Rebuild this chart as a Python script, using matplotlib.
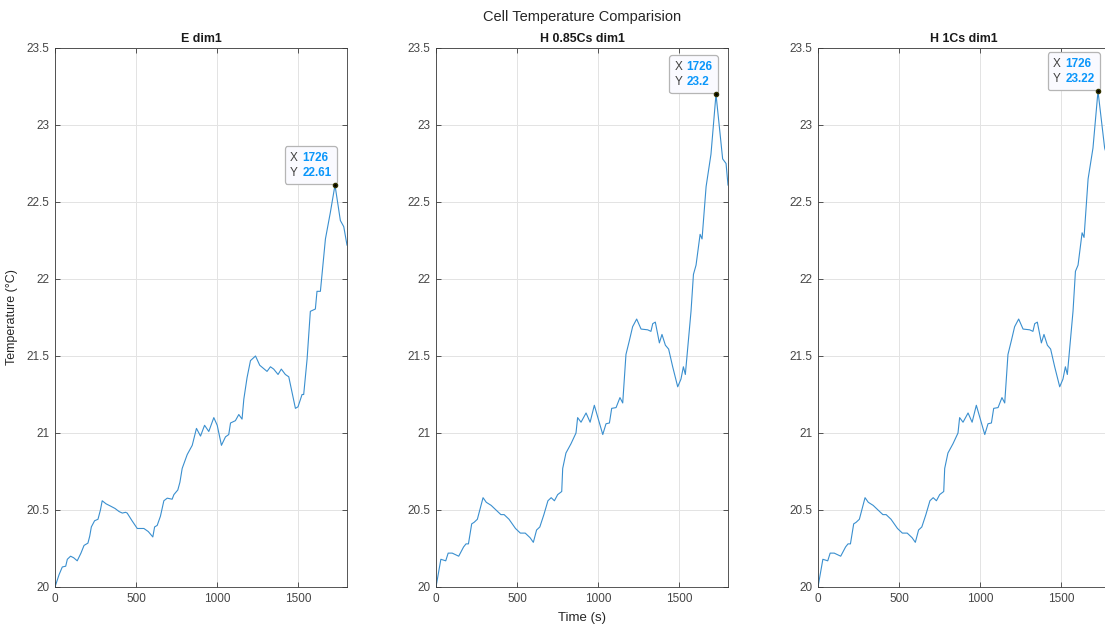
import matplotlib
matplotlib.use("Agg")
import matplotlib.pyplot as plt
from matplotlib.ticker import FuncFormatter, FixedLocator
from matplotlib.offsetbox import TextArea, HPacker, VPacker, AnnotationBbox

plt.rcParams['font.family'] = ['Liberation Sans', 'DejaVu Sans']

# E dim1
t_e = [0, 25, 45, 66, 76, 96, 115, 137, 160, 179, 203, 214, 224, 244, 265, 280, 291, 315, 343, 370,
       395, 415, 435, 445, 475, 507, 530, 548, 575, 603, 614, 630, 650, 671, 692, 722, 733, 757, 770, 784,
       815, 846, 872, 897, 922, 948, 979, 1000, 1026, 1051, 1071, 1082, 1112, 1133, 1153, 1164, 1184, 1205, 1236, 1262,
       1307, 1328, 1348, 1375, 1395, 1420, 1441, 1482, 1498, 1523, 1533, 1554, 1574, 1605, 1615, 1636, 1667, 1697, 1726, 1759,
       1780, 1800]
temp_e = [20.0, 20.08, 20.13, 20.135, 20.18, 20.20, 20.19, 20.17, 20.22, 20.27, 20.285, 20.33, 20.39, 20.43, 20.44, 20.50, 20.56, 20.54, 20.525, 20.51,
          20.49, 20.48, 20.485, 20.48, 20.43, 20.38, 20.38, 20.38, 20.36, 20.325, 20.39, 20.40, 20.46, 20.56, 20.577, 20.57, 20.6, 20.63, 20.68, 20.77,
          20.86, 20.92, 21.03, 20.98, 21.05, 21.01, 21.10, 21.05, 20.92, 20.975, 20.99, 21.065, 21.08, 21.12, 21.09, 21.22, 21.36, 21.47, 21.50, 21.44,
          21.40, 21.43, 21.415, 21.38, 21.415, 21.38, 21.365, 21.16, 21.17, 21.25, 21.25, 21.48, 21.79, 21.805, 21.92, 21.92, 22.26, 22.43, 22.61, 22.38,
          22.34, 22.22]

# H 0.85Cs dim1
t_h085 = [0, 30, 60, 75, 100, 140, 170, 185, 200, 220, 235, 255, 270, 290, 310, 340, 380, 400, 420, 450,
          490, 520, 550, 580, 600, 620, 640, 665, 690, 710, 730, 750, 775, 781, 801, 832, 863, 873, 894, 925,
          950, 976, 1028, 1048, 1069, 1083, 1110, 1134, 1151, 1171, 1192, 1212, 1237, 1264, 1305, 1325, 1336, 1352, 1377, 1393,
          1414, 1434, 1459, 1490, 1510, 1525, 1537, 1572, 1587, 1603, 1628, 1640, 1665, 1695, 1726, 1767, 1788, 1800]
temp_h085 = [20.0, 20.18, 20.17, 20.22, 20.22, 20.20, 20.26, 20.28, 20.28, 20.41, 20.42, 20.44, 20.50, 20.58, 20.55, 20.53, 20.49, 20.47, 20.47, 20.44,
             20.38, 20.35, 20.35, 20.32, 20.29, 20.37, 20.39, 20.47, 20.56, 20.58, 20.56, 20.60, 20.62, 20.77, 20.87, 20.93, 21.0, 21.10, 21.07, 21.13,
             21.07, 21.18, 20.99, 21.06, 21.065, 21.16, 21.165, 21.23, 21.195, 21.51, 21.60, 21.69, 21.74, 21.675, 21.67, 21.66, 21.71, 21.72, 21.585, 21.64,
             21.57, 21.545, 21.43, 21.30, 21.35, 21.43, 21.38, 21.79, 22.03, 22.09, 22.29, 22.26, 22.60, 22.81, 23.2, 22.78, 22.75, 22.61]

# H 1Cs dim1
t_h1 = [0, 30, 60, 75, 100, 140, 170, 185, 200, 220, 235, 255, 270, 290, 310, 340, 380, 400, 420, 450,
        490, 520, 550, 580, 600, 620, 640, 665, 690, 710, 730, 750, 775, 781, 801, 832, 863, 873, 894, 925,
        950, 976, 1028, 1048, 1069, 1083, 1110, 1134, 1151, 1171, 1192, 1212, 1237, 1264, 1305, 1325, 1336, 1352, 1377, 1393,
        1414, 1434, 1459, 1490, 1510, 1525, 1537, 1572, 1587, 1603, 1628, 1640, 1665, 1695, 1726, 1767, 1788, 1800]
temp_h1 = [20.0, 20.18, 20.17, 20.22, 20.22, 20.20, 20.26, 20.28, 20.28, 20.41, 20.42, 20.44, 20.50, 20.58, 20.55, 20.53, 20.49, 20.47, 20.47, 20.44,
           20.38, 20.35, 20.35, 20.32, 20.29, 20.37, 20.39, 20.47, 20.56, 20.58, 20.56, 20.60, 20.62, 20.77, 20.87, 20.93, 21.0, 21.10, 21.07, 21.13,
           21.07, 21.18, 20.99, 21.06, 21.065, 21.16, 21.165, 21.23, 21.195, 21.51, 21.60, 21.69, 21.74, 21.675, 21.67, 21.66, 21.71, 21.72, 21.585, 21.64,
           21.57, 21.545, 21.43, 21.30, 21.35, 21.43, 21.38, 21.79, 22.05, 22.09, 22.30, 22.27, 22.65, 22.85, 23.22, 22.85, 22.78, 22.70]

titles = ["E dim1", "H 0.85Cs dim1", "H 1Cs dim1"]
series = [(t_e, temp_e), (t_h085, temp_h085), (t_h1, temp_h1)]
tip_x = [1726, 1726, 1726]
tip_y = [22.61, 23.2, 23.22]
x_ticks = [0, 500, 1000, 1500]
y_ticks = [20, 20.5, 21, 21.5, 22, 22.5, 23, 23.5]

W, H = 1105, 624
fig = plt.figure(figsize=(W / 100, H / 100), dpi=100)
fig.patch.set_facecolor("white")

lefts = [55, 436, 818]
ax_w, ax_top, ax_bot = 292, 48, 587

line_col = "#3A8FCF"
ax_col = "#3a3a3a"
tick_col = "#454545"
tip_blue = "#0A96FA"

axes = []
for i, (x, y) in enumerate(series):
    ax = fig.add_axes([lefts[i] / W, 1 - ax_bot / H, ax_w / W, (ax_bot - ax_top) / H])
    axes.append(ax)
    ax.plot(x, y, color=line_col, lw=0.8)
    ax.set_xlim(0, 1800)
    ax.set_ylim(20, 23.5)
    ax.xaxis.set_major_locator(FixedLocator(x_ticks))
    ax.yaxis.set_major_locator(FixedLocator(y_ticks))
    ax.yaxis.set_major_formatter(FuncFormatter(lambda v, p: f"{v:g}"))
    ax.grid(True, color="#E3E3E3", lw=0.7)
    ax.set_axisbelow(True)
    for s in ax.spines.values():
        s.set_color(ax_col)
        s.set_linewidth(0.6)
    ax.tick_params(direction="in", length=3.5, width=0.6, color=ax_col,
                   labelcolor=tick_col, labelsize=8.5, top=True, right=True, pad=4)
    ax.set_title(titles[i], fontsize=8.9, fontweight="bold", color="#1a1a1a", pad=4)

    # data tip at the peak
    row1 = HPacker(children=[TextArea("X", textprops=dict(color="#404040", size=8.5)),
                             TextArea(f"{tip_x[i]}", textprops=dict(color=tip_blue, size=8.5, weight="bold"))],
                   sep=3, pad=0, align="baseline")
    row2 = HPacker(children=[TextArea("Y", textprops=dict(color="#404040", size=8.5)),
                             TextArea(f"{tip_y[i]:g}", textprops=dict(color=tip_blue, size=8.5, weight="bold"))],
                   sep=3, pad=0, align="baseline")
    box = VPacker(children=[row1, row2], sep=2, pad=0, align="left")
    ab = AnnotationBbox(box, (tip_x[i], tip_y[i]), xybox=(-2.6, 4.6), xycoords="data",
                        boxcoords="offset points", box_alignment=(1, 0), frameon=True, pad=0.4,
                        bboxprops=dict(facecolor="#FAFAFF", edgecolor="#B5B5B5", lw=0.9,
                                       boxstyle="round,pad=0.4,rounding_size=0.2"),
                        zorder=6, annotation_clip=False)
    ax.add_artist(ab)
    ax.plot([tip_x[i]], [tip_y[i]], "o", color="black", mec="#333300", ms=3,
            zorder=8, clip_on=False)

axes[0].set_ylabel("Temperature (\u00b0C)", fontsize=9, color="#262626", labelpad=6)
axes[1].set_xlabel("Time (s)", fontsize=9.5, color="#262626", labelpad=5)
fig.text(582 / W, 1 - 17 / H, "Cell Temperature Comparision", ha="center", va="center",
         fontsize=10.5, color="#262626")

fig.savefig("out.png", dpi=100)
